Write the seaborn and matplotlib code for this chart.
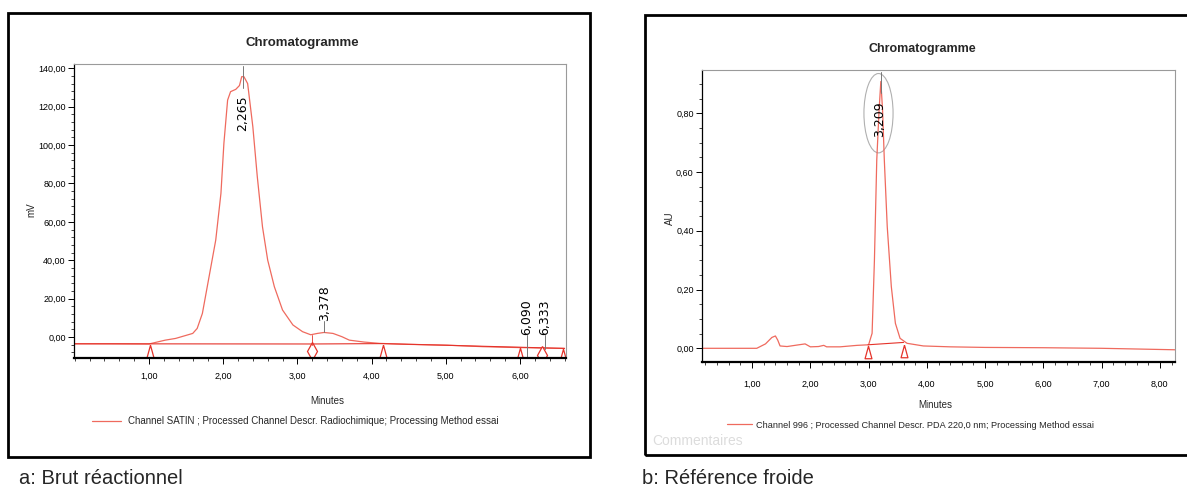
import matplotlib
matplotlib.use("Agg")
import matplotlib.pyplot as plt
import seaborn as sns
from matplotlib import font_manager as fm
from matplotlib.patches import Rectangle, Ellipse
from matplotlib.ticker import FixedLocator, MultipleLocator, FuncFormatter

# ===============================
# Data
# ===============================
# a: crude reaction mixture (radio channel, mV)
crude_t = [0.0, 0.5, 1.0, 1.22, 1.36, 1.59, 1.65, 1.72, 1.81, 1.90, 1.97, 2.01,
           2.06, 2.10, 2.17, 2.22, 2.25, 2.28, 2.33, 2.40, 2.46, 2.53, 2.60,
           2.69, 2.80, 2.94, 3.07, 3.18, 3.27, 3.36, 3.48, 3.60, 3.70, 3.90,
           4.11, 4.50, 5.01, 5.50, 5.91, 6.30, 6.60]
crude_mv = [-3.5, -3.5, -3.6, -1.6, -0.7, 1.9, 4.5, 12.3, 31.4, 50.5, 74.8, 100.9,
            123.4, 127.8, 129.0, 131.0, 135.6, 135.6, 132.0, 109.5, 83.5, 57.4, 40.1,
            26.2, 14.1, 6.3, 2.8, 1.2, 1.9, 2.4, 1.9, 0.2, -1.6, -2.6,
            -3.3, -3.8, -4.2, -5.0, -5.4, -5.7, -5.9]
crude_base_t = [0.0, 3.2, 4.15, 6.0, 6.6]
crude_base_mv = [-3.5, -3.6, -3.4, -5.3, -5.9]
crude_peaks = ["2,265", "3,378", "6,090", "6,333"]
crude_peak_t = [2.265, 3.36, 6.09, 6.333]
crude_tri_t = [1.02, 4.15, 6.0, 6.58]
crude_tri_mv = [-7.0, -7.2, -9.0, -9.3]
crude_dia_t = [3.2, 6.3]
crude_dia_mv = [-7.2, -9.4]
crude_legend = "Channel SATIN ; Processed Channel Descr. Radiochimique; Processing Method essai"

# b: cold reference (PDA 220 nm, AU)
ref_t = [0.14, 0.6, 1.08, 1.23, 1.34, 1.40, 1.44, 1.48, 1.60, 1.77, 1.91, 2.00,
         2.14, 2.23, 2.28, 2.51, 2.80, 3.00, 3.06, 3.10, 3.14, 3.18, 3.21, 3.24,
         3.27, 3.32, 3.39, 3.46, 3.54, 3.66, 3.94, 4.40, 5.00, 6.00, 7.00, 8.26]
ref_au = [0.0, 0.0, 0.0, 0.015, 0.037, 0.042, 0.028, 0.008, 0.006, 0.011, 0.015, 0.005,
          0.006, 0.010, 0.005, 0.005, 0.010, 0.012, 0.051, 0.30, 0.64, 0.81, 0.908, 0.81,
          0.64, 0.414, 0.21, 0.085, 0.034, 0.017, 0.008, 0.005, 0.003, 0.002, 0.0, -0.005]
ref_base_t = [2.99, 3.60]
ref_base_au = [0.012, 0.020]
ref_tri_t = [2.99, 3.60]
ref_tri_au = [-0.012, -0.010]
ref_legend = "Channel 996 ; Processed Channel Descr. PDA 220,0 nm; Processing Method essai"

# ===============================
# Style
# ===============================
sns.set_style("white")
names = {f.name for f in fm.fontManager.ttflist}
narrow = "Liberation Sans Narrow" if "Liberation Sans Narrow" in names else "Liberation Sans"
plt.rcParams["font.family"] = [narrow, "DejaVu Sans"]

RED = "#ef6a5e"
BASE_RED = "#e5332a"
tall_tri = [(0, 1), (-0.55, -1), (0.55, -1), (0, 1)]

comma = FuncFormatter(lambda v, p: f"{v:.2f}".replace(".", ","))

fig = plt.figure(figsize=(11.87, 4.88), dpi=100)
W, H = 1187, 488


def px_axes(x0, y0, x1, y1):
    return fig.add_axes([x0 / W, 1 - y1 / H, (x1 - x0) / W, (y1 - y0) / H])


def style_axes(ax, xpad):
    for s in ["top", "right"]:
        ax.spines[s].set_color("#9a9a9a")
        ax.spines[s].set_linewidth(0.8)
    ax.spines["left"].set_color("black")
    ax.spines["left"].set_linewidth(0.9)
    ax.spines["bottom"].set_color("black")
    ax.spines["bottom"].set_linewidth(1.6)
    ax.tick_params(which="major", direction="out", length=4, width=0.7,
                   labelsize=6.5, pad=2, colors="black", left=True, bottom=True)
    ax.tick_params(which="minor", direction="out", length=2.5, width=0.6,
                   left=True, bottom=True)
    ax.tick_params(axis="x", which="major", pad=xpad)
    ax.xaxis.set_major_formatter(comma)
    ax.yaxis.set_major_formatter(comma)
    ax.grid(False)


def peak_label(ax, t, bottom, text):
    ax.text(t, bottom, text, rotation=90, ha="center", va="bottom",
            fontsize=9, family="DejaVu Sans", color="black")


# ===============================
# a: Brut réactionnel
# ===============================
ax1 = px_axes(74, 64, 566, 358)
sns.lineplot(x=crude_t, y=crude_mv, ax=ax1, color=RED, linewidth=0.9,
             label=crude_legend, legend=False, estimator=None, sort=False)
ax1.plot(crude_base_t, crude_base_mv, color=BASE_RED, linewidth=0.8)
ax1.plot(crude_tri_t, crude_tri_mv, linestyle="none", marker=tall_tri, markersize=9,
         markerfacecolor="white", markeredgecolor=BASE_RED, markeredgewidth=0.9)
ax1.plot(crude_dia_t, crude_dia_mv, linestyle="none", marker="d", markersize=9,
         markerfacecolor="white", markeredgecolor=BASE_RED, markeredgewidth=0.9)
ax1.plot([crude_dia_t[0], crude_dia_t[0]], [crude_dia_mv[0] + 3, 1.2], color=BASE_RED, lw=0.6)

# peak annotations
ax1.plot([crude_peak_t[0]] * 2, [129.5, 141], color="#777777", lw=0.7)
peak_label(ax1, crude_peak_t[0], 107.5, crude_peaks[0])
ax1.plot([crude_peak_t[1]] * 2, [2.4, 8.5], color="#777777", lw=0.7)
peak_label(ax1, crude_peak_t[1], 8.5, crude_peaks[1])
ax1.plot([crude_peak_t[2]] * 2, [-11, 1], color="#777777", lw=0.7)
peak_label(ax1, crude_peak_t[2], 1, crude_peaks[2])
ax1.plot([crude_peak_t[3]] * 2, [-6, 1], color="#777777", lw=0.7)
peak_label(ax1, crude_peak_t[3], 1, crude_peaks[3])

ax1.set_xlim(-0.01, 6.62)
ax1.set_ylim(-10.9, 142.2)
style_axes(ax1, xpad=6)
ax1.xaxis.set_major_locator(FixedLocator([1, 2, 3, 4, 5, 6]))
ax1.xaxis.set_minor_locator(MultipleLocator(0.2))
ax1.yaxis.set_major_locator(FixedLocator(list(range(0, 141, 20))))
ax1.yaxis.set_minor_locator(MultipleLocator(4))
ax1.set_xlabel("Minutes", fontsize=7)
ax1.xaxis.set_label_coords((327 - 74) / 492, -(396 - 358) / 294)
ax1.set_ylabel("mV", fontsize=7)
ax1.yaxis.set_label_coords((36 - 74) / 492, (358 - 210) / 294)
fig.text(302 / W, 1 - 43 / H, "Chromatogramme", ha="center", va="center",
         fontsize=9.5, fontweight="bold")
ax1.legend(loc="center left", bbox_to_anchor=(92 / W, 1 - 421 / H),
           bbox_transform=fig.transFigure, frameon=False, fontsize=7,
           handlelength=3.0, handletextpad=0.7, borderpad=0, borderaxespad=0)

# ===============================
# b: Référence froide
# ===============================
ax2 = px_axes(702, 70, 1175, 362)
sns.lineplot(x=ref_t, y=ref_au, ax=ax2, color=RED, linewidth=0.9,
             label=ref_legend, legend=False, estimator=None, sort=False)
ax2.plot(ref_base_t, ref_base_au, color=BASE_RED, linewidth=0.8)
ax2.plot(ref_tri_t, ref_tri_au, linestyle="none", marker=tall_tri, markersize=9,
         markerfacecolor="white", markeredgecolor=BASE_RED, markeredgewidth=0.9)
ax2.plot([3.209, 3.209], [0.87, 0.94], color="#777777", lw=0.7)
peak_label(ax2, 3.195, 0.72, "3,209")
ax2.add_patch(Ellipse((3.17, 0.80), 0.5, 0.27, fill=False, edgecolor="#b0b0b0", lw=0.8))

ax2.set_xlim(0.14, 8.26)
ax2.set_ylim(-0.0466, 0.947)
style_axes(ax2, xpad=9)
ax2.xaxis.set_major_locator(FixedLocator([1, 2, 3, 4, 5, 6, 7, 8]))
ax2.xaxis.set_minor_locator(MultipleLocator(0.2))
ax2.yaxis.set_major_locator(FixedLocator([0, 0.2, 0.4, 0.6, 0.8]))
ax2.yaxis.set_minor_locator(MultipleLocator(0.05))
ax2.set_xlabel("Minutes", fontsize=7)
ax2.xaxis.set_label_coords((935 - 702) / 473, -(400 - 362) / 292)
ax2.set_ylabel("AU", fontsize=7)
ax2.yaxis.set_label_coords((675 - 702) / 473, (362 - 218) / 292)
fig.text(922 / W, 1 - 49 / H, "Chromatogramme", ha="center", va="center",
         fontsize=9, fontweight="bold")
ax2.legend(loc="center left", bbox_to_anchor=(727 / W, 1 - 425 / H),
           bbox_transform=fig.transFigure, frameon=False, fontsize=6.6,
           handlelength=2.7, handletextpad=0.5, borderpad=0, borderaxespad=0)
fig.text(652 / W, 1 - 441 / H, "Commentaires", fontsize=10, color="#dcdcdc",
         va="center")

# ===============================
# Panel frames and captions
# ===============================
fig.add_artist(Rectangle((8 / W, 1 - 457 / H), (590 - 8) / W, (457 - 13) / H,
                         transform=fig.transFigure, fill=False, lw=2, ec="black"))
fig.add_artist(Rectangle((645 / W, 1 - 455 / H), (1192 - 645) / W, (455 - 15) / H,
                         transform=fig.transFigure, fill=False, lw=2, ec="black"))
fig.text(19 / W, 1 - 478 / H, "a: Brut réactionnel", fontsize=14.5,
         family=["Liberation Sans", "DejaVu Sans"], va="center")
fig.text(642 / W, 1 - 478 / H, "b: Référence froide", fontsize=14.5,
         family=["Liberation Sans", "DejaVu Sans"], va="center")

fig.savefig("out.png", dpi=100)
